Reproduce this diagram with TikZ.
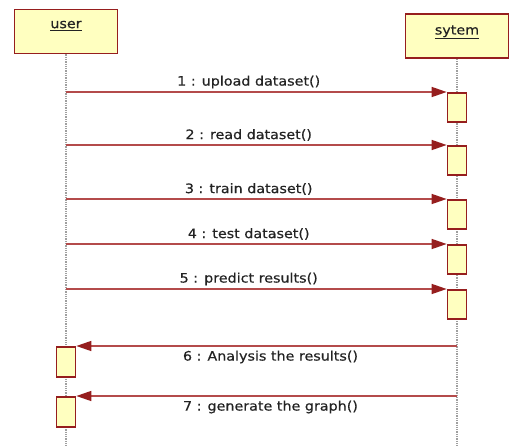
\documentclass[tikz,border=0pt]{standalone}
\usepackage{fontspec}
\setmainfont{DejaVu Sans}[FakeStretch=1.1, FakeBold=0.5]
\usetikzlibrary{arrows.meta, positioning, calc}
\definecolor{umlred}{RGB}{150,30,30}
\definecolor{umlline}{RGB}{180,75,75}
\definecolor{umlfill}{RGB}{255,255,192}
\definecolor{umltext}{RGB}{35,35,35}
\tikzset{
    object/.style={draw=umlred, fill=umlfill, line width=1.7pt, minimum width=103pt, minimum height=44pt, inner sep=0pt},
    objname/.style={text=umltext, font=\fontsize{13}{15}\selectfont, inner sep=0pt},
    lifeline/.style={gray!75, densely dotted, line width=1.3pt},
    activation/.style={draw=umlred, fill=umlfill, line width=1.7pt, minimum width=19pt, minimum height=29pt, inner sep=0pt},
    message/.style={-{Triangle[length=15pt, width=10pt, color=umlred]}, umlline, line width=1.5pt},
    msglabel/.style={text=umltext, font=\fontsize{13}{15}\selectfont, inner sep=0pt}
}

\begin{document}
\begin{tikzpicture}[x=1pt, y=-1pt]
    \useasboundingbox (0,0) rectangle (510,446);
    % Objects
    \node[object] (user) at (66,31.5) {};
    \node[objname, below=12pt of user.north] (userlbl) {\underline{user}};
    \node[object] (sytem) at (457,36) {};
    \node[objname, below=12pt of sytem.north] (sytemlbl) {\underline{sytem}};
    % Lifelines
    \coordinate (userend) at (user.south |- 0,446);
    \coordinate (sytemend) at (sytem.south |- 0,446);
    \draw[lifeline] (user.south) -- (userend);
    \draw[lifeline] (sytem.south) -- (sytemend);
    % Activations on sytem
    \foreach \i/\y in {1/92, 2/145, 3/199, 4/244, 5/289}
        \node[activation, anchor=north] (s\i) at (457,\y) {};
    % Activations on user
    \node[activation, anchor=north, minimum height=30pt] (u6) at (66,346) {};
    \node[activation, anchor=north, minimum height=30pt] (u7) at (66,396) {};
    % Calls from user
    \foreach \i/\txt in {1/upload dataset(), 2/read dataset(), 3/train dataset(), 4/test dataset(), 5/predict results()} {
        \coordinate (c\i) at (user.south |- s\i.north);
        \draw[message] (c\i) -- (s\i.north west);
        \node[msglabel] (m\i) at ($(c\i)!0.48!(s\i.north west) + (0,-10)$) {\i\ : \txt};
    }
    % Replies from sytem
    \foreach \i/\txt in {6/Analysis the results(), 7/generate the graph()} {
        \coordinate (r\i) at (sytem.south |- u\i.north);
        \draw[message] (r\i) -- (u\i.north east);
        \node[msglabel] (m\i) at ($(r\i)!0.49!(u\i.north east) + (0,11)$) {\i\ : \txt};
    }
\end{tikzpicture}
\end{document}
